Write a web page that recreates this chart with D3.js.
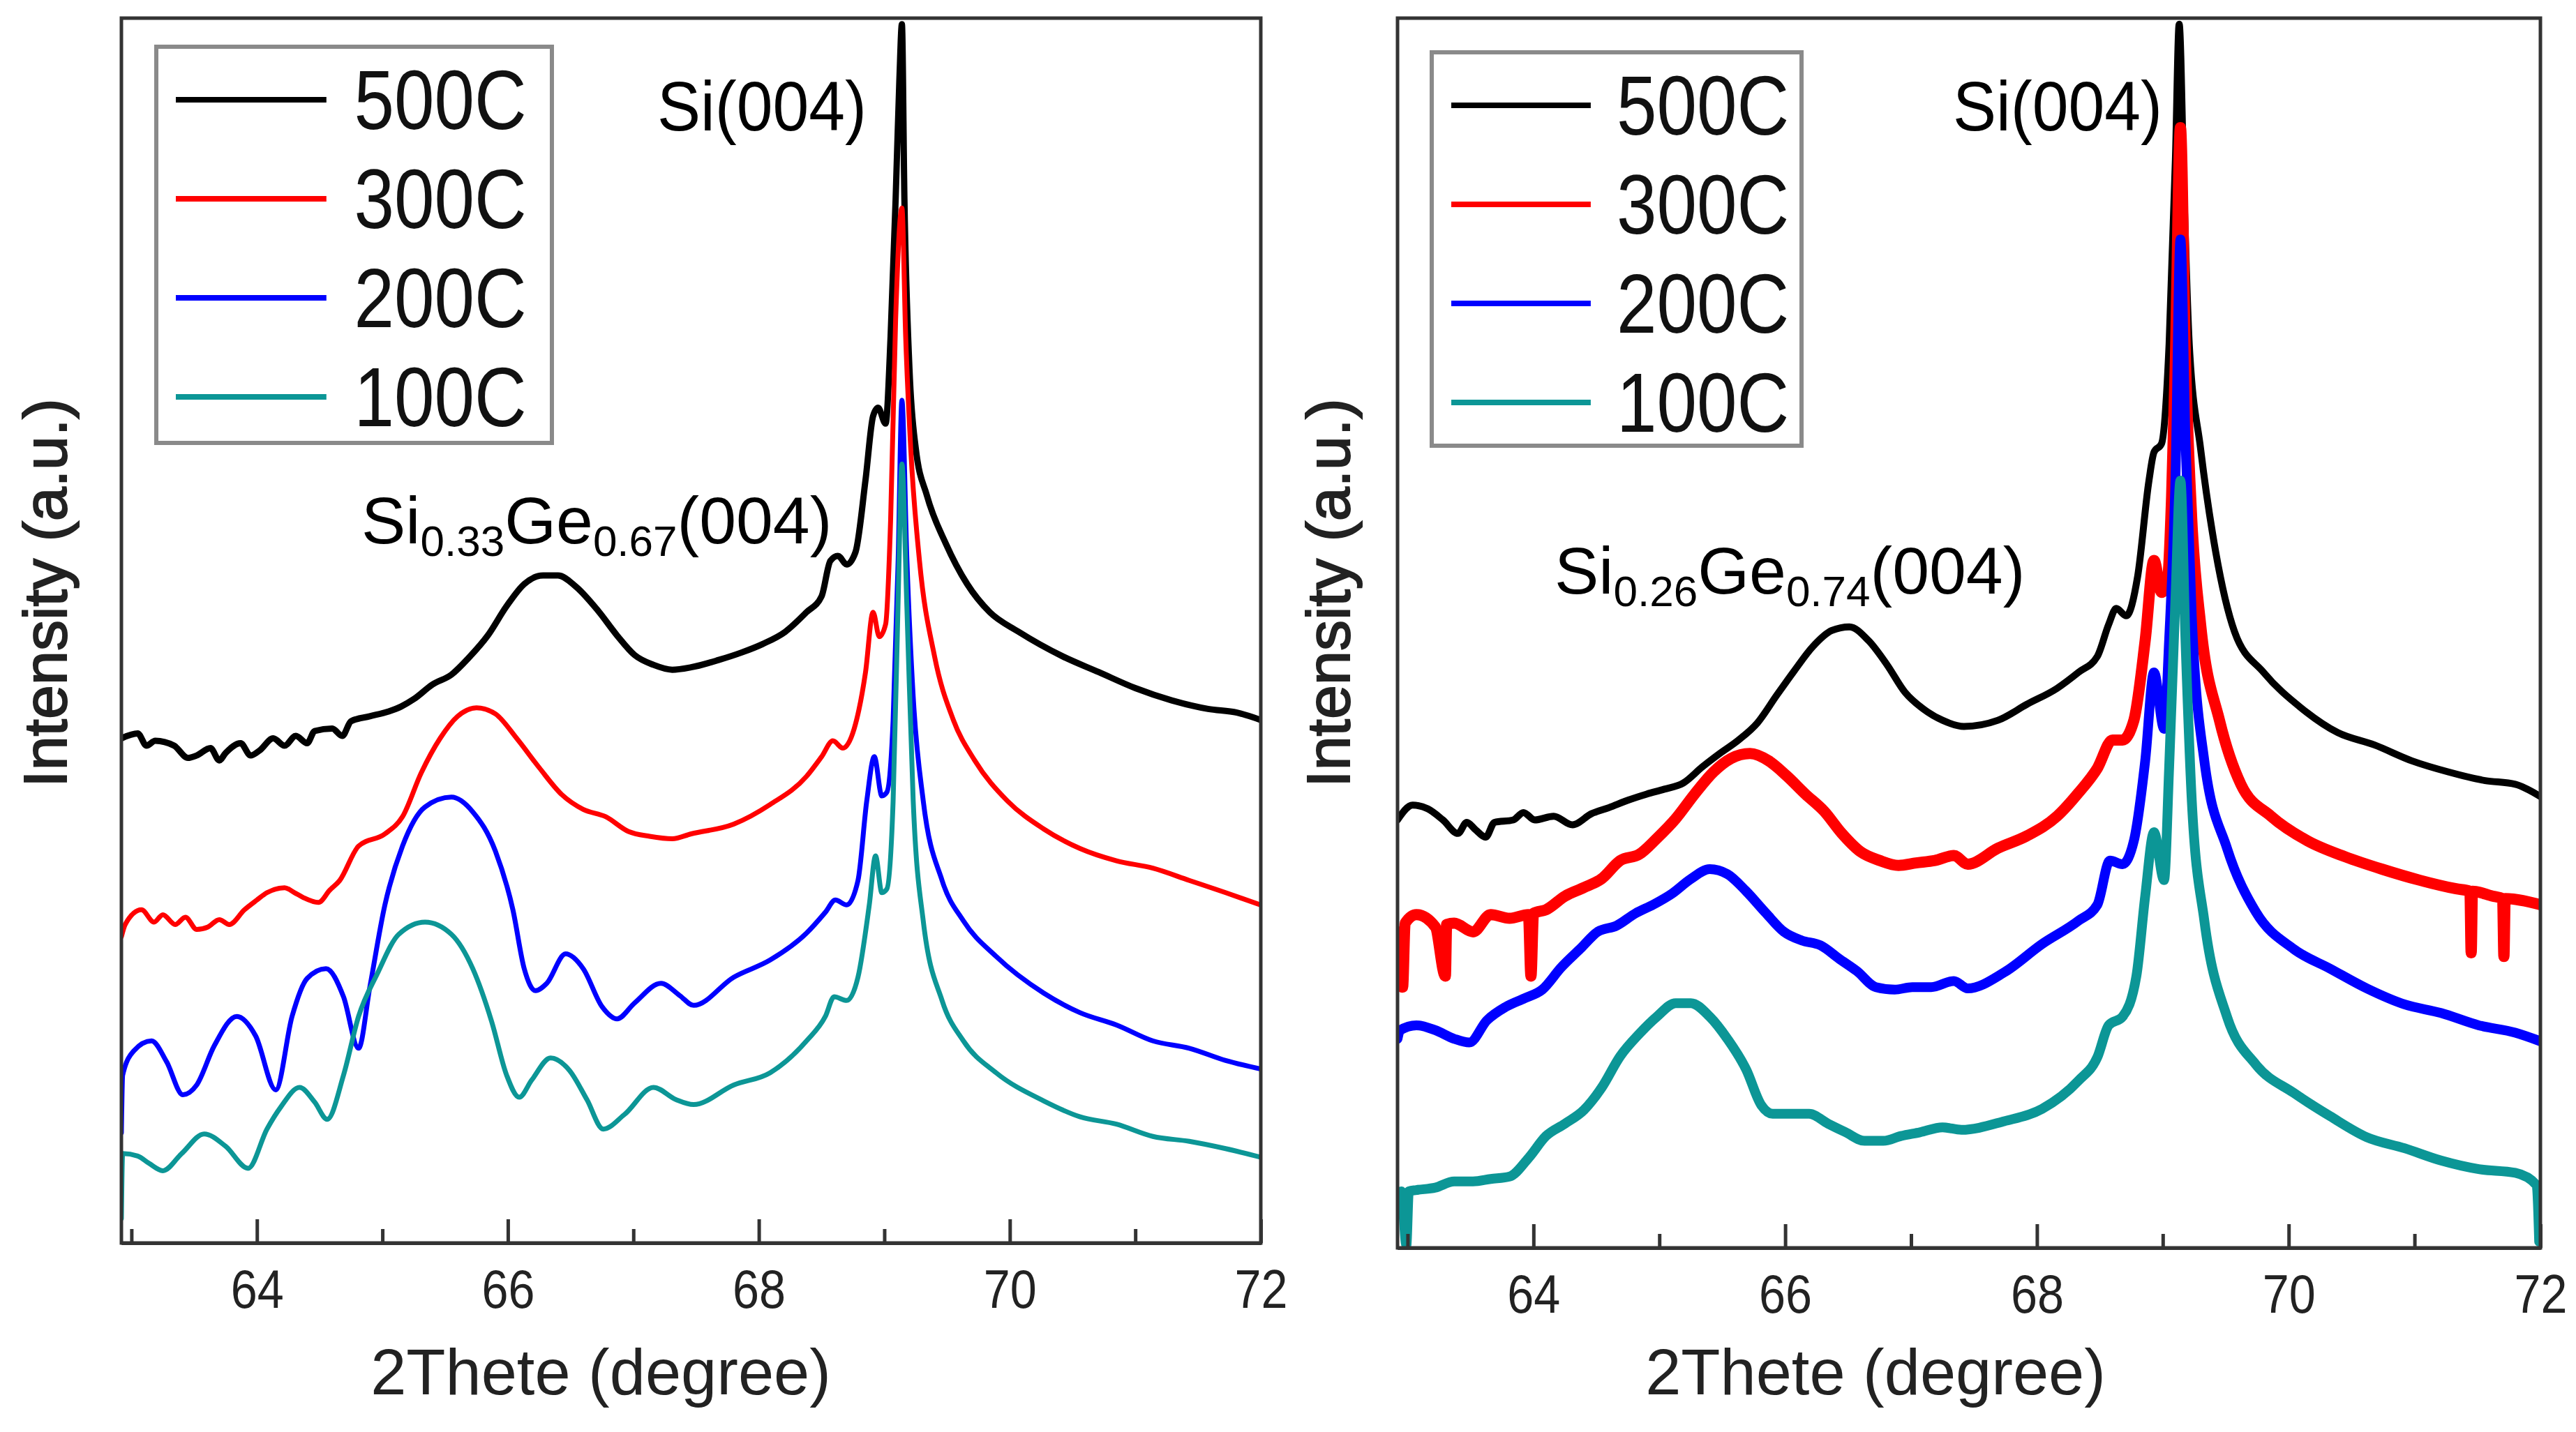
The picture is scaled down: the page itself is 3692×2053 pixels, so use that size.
<!DOCTYPE html>
<meta charset="utf-8">
<style>
body {
  margin: 0;
  background: #fff;
  font-family: "Liberation Sans", Arial, sans-serif;
}
.frame {
  fill: none;
  stroke: #333;
  stroke-width: 5;
}
.curve {
  fill: none;
  stroke-linejoin: round;
  stroke-linecap: round;
}
.axis path,
.axis line {
  fill: none;
  stroke: #333;
  stroke-width: 5;
}
.axis text {
  font-size: 78px;
  fill: #222;
  font-family: "Liberation Sans", Arial, sans-serif;
}
</style>
<body>
<script src="https://d3js.org/d3.v7.min.js"></script>
<script>

// tick values (degrees)
var xTicks = [64, 66, 68, 70, 72];
var xMinorTicks = [63, 65, 67, 69, 71];

var seriesNames = ["500C", "300C", "200C", "100C"];
var seriesColors = ["#000000", "#ff0000", "#0000ff", "#0c9696"];

// ---- left panel : Si0.33Ge0.67 ----  [2theta, intensity a.u.]
var left500 = [[62.92,41.2],[63.05,41.6],[63.12,40.6],[63.19,41.0],[63.34,40.6],[63.45,39.6],[63.52,39.8],[63.63,40.4],[63.70,39.4],[63.75,40.0],[63.87,40.8],[63.95,39.8],[64.02,40.2],[64.13,41.2],[64.22,40.6],[64.31,41.4],[64.40,40.8],[64.46,41.8],[64.60,42.0],[64.68,41.4],[64.75,42.6],[64.90,43.0],[65.05,43.4],[65.15,43.8],[65.25,44.4],[65.40,45.6],[65.55,46.4],[65.69,47.8],[65.84,49.6],[65.99,52.0],[66.13,53.8],[66.28,54.5],[66.40,54.5],[66.54,53.6],[66.72,51.6],[66.87,49.6],[67.01,48.0],[67.16,47.2],[67.31,46.8],[67.46,47.0],[67.68,47.6],[67.86,48.2],[68.03,48.9],[68.21,49.9],[68.38,51.5],[68.50,52.8],[68.57,55.7],[68.63,56.1],[68.70,55.4],[68.77,56.4],[68.85,62.3],[68.91,67.5],[68.95,68.2],[69.01,66.9],[69.05,74.0],[69.09,85.2],[69.12,95.0],[69.14,99.5],[69.16,85.2],[69.20,71.4],[69.25,64.9],[69.34,61.0],[69.49,57.1],[69.66,53.8],[69.84,51.5],[70.07,49.9],[70.42,47.9],[70.71,46.6],[71.00,45.3],[71.29,44.3],[71.58,43.6],[71.81,43.3],[72.00,42.7]];
var left300 = [[62.92,25.0],[62.95,26.0],[63.08,27.2],[63.18,26.2],[63.25,26.8],[63.35,26.0],[63.43,26.6],[63.52,25.6],[63.61,25.8],[63.70,26.4],[63.78,26.0],[63.90,27.2],[64.00,28.0],[64.08,28.6],[64.22,29.0],[64.30,28.6],[64.37,28.2],[64.49,27.8],[64.58,28.8],[64.66,29.6],[64.81,32.4],[65.02,33.4],[65.16,34.8],[65.31,38.4],[65.46,41.2],[65.60,43.0],[65.75,43.7],[65.90,43.2],[66.07,41.2],[66.25,38.8],[66.43,36.6],[66.60,35.4],[66.78,34.8],[66.96,33.6],[67.13,33.2],[67.31,33.0],[67.46,33.4],[67.80,34.2],[68.09,35.8],[68.38,38.1],[68.50,39.7],[68.59,41.0],[68.67,40.4],[68.76,42.0],[68.85,46.6],[68.91,51.5],[68.96,49.5],[69.01,50.5],[69.05,59.0],[69.09,75.4],[69.14,84.5],[69.17,74.0],[69.21,64.9],[69.28,55.7],[69.40,47.9],[69.55,42.7],[69.72,39.4],[69.98,36.1],[70.27,33.8],[70.56,32.2],[70.85,31.2],[71.14,30.6],[71.43,29.6],[71.72,28.6],[72.00,27.6]];
var left200 = [[62.92,9.0],[62.93,13.7],[63.02,15.7],[63.16,16.5],[63.28,14.8],[63.41,12.1],[63.52,12.9],[63.66,16.1],[63.84,18.5],[63.99,16.9],[64.15,12.5],[64.28,18.5],[64.40,21.6],[64.55,22.4],[64.69,20.1],[64.81,15.9],[64.90,20.9],[65.02,27.6],[65.16,32.4],[65.34,35.6],[65.55,36.4],[65.72,35.2],[65.90,32.0],[66.04,27.2],[66.13,22.4],[66.22,20.6],[66.31,21.2],[66.46,23.6],[66.60,22.4],[66.75,19.3],[66.87,18.3],[67.01,19.6],[67.22,21.2],[67.37,20.2],[67.48,19.4],[67.80,21.7],[68.09,23.1],[68.38,25.3],[68.53,27.0],[68.61,28.0],[68.70,27.6],[68.79,29.6],[68.86,36.1],[68.92,39.7],[68.98,36.5],[69.02,36.8],[69.07,42.7],[69.11,55.7],[69.14,68.8],[69.18,55.7],[69.23,44.6],[69.31,36.1],[69.46,29.6],[69.63,26.3],[69.89,23.4],[70.27,20.4],[70.56,18.8],[70.85,17.8],[71.14,16.5],[71.43,15.9],[71.72,14.9],[72.00,14.2]];
var left100 = [[62.92,2.0],[62.93,7.3],[63.05,7.1],[63.14,6.5],[63.25,5.9],[63.40,7.3],[63.58,8.9],[63.75,7.9],[63.93,6.1],[64.08,9.3],[64.19,11.1],[64.34,12.7],[64.46,11.5],[64.56,10.1],[64.69,13.7],[64.81,18.5],[64.96,22.0],[65.13,25.2],[65.34,26.2],[65.55,25.2],[65.72,22.4],[65.87,18.1],[65.99,13.7],[66.09,11.9],[66.19,13.3],[66.34,15.1],[66.49,14.1],[66.63,11.7],[66.76,9.3],[66.93,10.5],[67.16,12.7],[67.34,11.7],[67.48,11.3],[67.80,12.9],[68.09,13.9],[68.38,16.5],[68.53,18.5],[68.60,20.1],[68.70,19.8],[68.79,21.7],[68.88,27.6],[68.93,31.6],[68.98,28.6],[69.02,28.9],[69.07,36.1],[69.11,52.5],[69.14,63.6],[69.18,51.8],[69.23,36.1],[69.31,26.3],[69.46,19.8],[69.63,16.5],[69.89,13.9],[70.27,11.6],[70.56,10.3],[70.85,9.7],[71.14,8.7],[71.43,8.3],[71.72,7.7],[72.00,7.0]];

// ---- right panel : Si0.26Ge0.74 ----
var right500 = [[62.92,34.8],[63.04,36.0],[63.16,35.7],[63.28,34.8],[63.40,33.7],[63.47,34.6],[63.54,34.0],[63.62,33.4],[63.69,34.6],[63.84,34.8],[63.92,35.4],[64.01,34.8],[64.16,35.1],[64.31,34.4],[64.46,35.3],[64.60,35.8],[64.75,36.4],[64.90,36.9],[65.04,37.3],[65.19,37.8],[65.34,39.1],[65.48,40.2],[65.63,41.3],[65.78,42.7],[65.93,44.9],[66.07,46.9],[66.22,48.9],[66.37,50.2],[66.51,50.5],[66.66,49.4],[66.81,47.4],[66.95,45.2],[67.10,43.8],[67.25,42.9],[67.42,42.4],[67.69,42.9],[67.92,44.2],[68.16,45.5],[68.33,46.8],[68.48,48.1],[68.57,50.7],[68.63,52.0],[68.71,51.4],[68.80,54.6],[68.89,62.4],[68.93,64.7],[68.99,65.4],[69.05,73.5],[69.10,88.5],[69.13,99.5],[69.17,85.2],[69.21,73.5],[69.30,65.0],[69.42,56.6],[69.57,50.1],[69.80,46.8],[70.10,43.9],[70.39,41.9],[70.68,40.9],[70.98,39.6],[71.27,38.7],[71.56,38.0],[71.80,37.7],[72.00,36.7]];
var right300 = [[62.92,24.0],[62.94,25.7],[62.96,21.2],[62.98,26.4],[63.07,27.1],[63.22,26.1],[63.30,22.1],[63.31,26.3],[63.37,26.4],[63.52,25.7],[63.66,27.1],[63.81,26.8],[63.96,27.1],[63.98,22.1],[64.00,27.2],[64.10,27.5],[64.25,28.6],[64.40,29.3],[64.54,30.0],[64.69,31.5],[64.84,32.0],[64.98,33.3],[65.13,34.9],[65.28,36.9],[65.43,38.7],[65.57,39.8],[65.72,40.2],[65.87,39.6],[66.01,38.4],[66.16,36.9],[66.31,35.5],[66.45,33.7],[66.60,32.2],[66.75,31.5],[66.90,31.1],[67.04,31.3],[67.19,31.5],[67.34,31.9],[67.45,31.2],[67.69,32.5],[67.92,33.5],[68.16,35.1],[68.33,37.0],[68.48,39.0],[68.60,41.3],[68.68,41.3],[68.77,42.9],[68.86,49.4],[68.93,55.9],[68.99,53.3],[69.04,54.6],[69.07,61.1],[69.10,72.2],[69.14,91.1],[69.18,72.2],[69.23,59.2],[69.30,50.7],[69.45,42.9],[69.62,37.7],[69.86,35.1],[70.15,33.1],[70.45,31.8],[70.74,30.8],[71.04,29.9],[71.33,29.2],[71.44,29.0],[71.45,24.0],[71.46,29.0],[71.62,28.6],[71.70,28.4],[71.71,23.7],[71.72,28.4],[72.00,27.9]];
var right200 = [[62.92,17.0],[62.94,17.7],[63.07,18.1],[63.22,17.7],[63.37,17.0],[63.49,16.7],[63.63,18.5],[63.78,19.6],[63.93,20.3],[64.07,21.0],[64.22,22.8],[64.37,24.3],[64.51,25.7],[64.66,26.2],[64.81,27.2],[64.95,27.9],[65.10,28.8],[65.25,30.0],[65.40,30.8],[65.54,30.4],[65.69,29.0],[65.84,27.3],[65.99,25.7],[66.13,25.0],[66.28,24.6],[66.43,23.5],[66.57,22.5],[66.72,21.2],[66.87,21.0],[67.01,21.2],[67.16,21.2],[67.34,21.7],[67.45,21.1],[67.74,22.4],[68.04,24.7],[68.33,26.6],[68.48,27.9],[68.58,31.5],[68.68,31.2],[68.77,33.1],[68.86,39.6],[68.93,46.8],[69.01,42.2],[69.05,49.4],[69.10,62.4],[69.14,82.0],[69.18,65.7],[69.23,51.4],[69.33,39.6],[69.51,32.5],[69.74,27.3],[70.04,24.3],[70.33,22.7],[70.62,21.1],[70.92,19.8],[71.21,19.1],[71.51,18.1],[71.80,17.5],[72.00,16.8]];
var right100 = [[62.92,4.4],[62.95,4.6],[62.99,0.2],[63.01,4.6],[63.07,4.7],[63.22,4.9],[63.37,5.4],[63.52,5.4],[63.66,5.6],[63.81,5.8],[63.96,7.3],[64.10,9.1],[64.25,10.1],[64.40,11.2],[64.54,13.0],[64.69,15.6],[64.84,17.4],[64.98,18.8],[65.13,19.9],[65.25,19.9],[65.40,18.8],[65.54,17.0],[65.69,14.5],[65.81,11.6],[65.90,10.9],[66.04,10.9],[66.19,10.9],[66.34,10.1],[66.48,9.4],[66.63,8.7],[66.78,8.7],[66.92,9.1],[67.07,9.4],[67.25,9.8],[67.40,9.6],[67.74,10.3],[68.04,11.3],[68.33,13.6],[68.48,15.5],[68.57,18.1],[68.68,18.8],[68.79,22.1],[68.86,28.6],[68.93,33.8],[69.01,29.9],[69.05,39.0],[69.10,52.7],[69.14,62.4],[69.18,49.4],[69.23,36.4],[69.33,26.6],[69.51,18.8],[69.74,14.9],[70.04,12.6],[70.33,10.7],[70.62,9.0],[70.92,8.1],[71.21,7.1],[71.51,6.4],[71.80,6.1],[71.97,5.1],[71.99,0.5]];

// panel layout (pixels)
var panels = [
  { box: {left: 174, right: 1807, top: 26, bottom: 1782},
    series: [left500, left300, left200, left100],
    widths: [9, 7, 7, 7],
    legend: {x: 224, y: 67, w: 567, h: 568},
    yLabelX: 95, xLabelX: 861,
    si: {x: 942, y: 187},
    alloy: {x: 518, y: 779, a: "0.33", b: "0.67"} },
  { box: {left: 2003, right: 3641, top: 26, bottom: 1789},
    series: [right500, right300, right200, right100],
    widths: [10, 16, 14, 14],
    legend: {x: 2052, y: 75, w: 530, h: 564},
    yLabelX: 1934, xLabelX: 2688,
    si: {x: 2799, y: 187},
    alloy: {x: 2228, y: 851, a: "0.26", b: "0.74"} }
];

var svg = d3.select("body").append("svg")
    .attr("width", 3692)
    .attr("height", 2053);

panels.forEach(function(p, pi) {
  var b = p.box;

  var x = d3.scaleLinear().domain([62.92, 72]).range([b.left, b.right]);
  var y = d3.scaleLinear().domain([0, 100]).range([b.bottom, b.top]);

  svg.append("clipPath").attr("id", "clip" + pi)
    .append("rect")
      .attr("x", b.left).attr("y", b.top)
      .attr("width", b.right - b.left).attr("height", b.bottom - b.top);

  var line = d3.line()
      .curve(d3.curveMonotoneX)
      .x(function(d) { return x(d[0]); })
      .y(function(d) { return y(d[1]); });

  // curves, black first so the others sit on top at the Si peak
  var g = svg.append("g").attr("clip-path", "url(#clip" + pi + ")");
  p.series.forEach(function(s, i) {
    g.append("path")
      .datum(s)
      .attr("class", "curve")
      .style("stroke", seriesColors[i])
      .style("stroke-width", p.widths[i])
      .attr("d", line);
  });

  // box
  svg.append("rect")
      .attr("class", "frame")
      .attr("x", b.left).attr("y", b.top)
      .attr("width", b.right - b.left).attr("height", b.bottom - b.top);

  // x axis, ticks pointing inward
  svg.append("g")
      .attr("class", "axis")
      .attr("transform", "translate(0," + b.bottom + ")")
      .call(d3.axisBottom(x).tickValues(xTicks).tickSizeInner(-34).tickSizeOuter(0)
            .tickPadding(38).tickFormat(d3.format("d")))
    .selectAll("text")
      .attr("textLength", 76)
      .attr("lengthAdjust", "spacingAndGlyphs");

  svg.append("g")
      .attr("class", "axis")
      .attr("transform", "translate(0," + b.bottom + ")")
      .call(d3.axisBottom(x).tickValues(xMinorTicks).tickSizeInner(-20).tickSizeOuter(0)
            .tickFormat(""));

  // axis titles
  svg.append("text")
      .attr("x", p.xLabelX)
      .attr("y", 1999)
      .attr("text-anchor", "middle")
      .style("font-size", "92px")
      .style("fill", "#222")
      .text("2Thete (degree)");

  svg.append("text")
      .attr("transform", "translate(" + p.yLabelX + ",850) rotate(-90)")
      .attr("text-anchor", "middle")
      .style("font-size", "88px")
      .style("fill", "#222")
      .style("stroke", "#222")
      .style("stroke-width", 2)
      .text("Intensity (a.u.)");

  // peak labels
  svg.append("text")
      .attr("x", p.si.x).attr("y", p.si.y)
      .style("font-size", "100px")
      .attr("textLength", 300)
      .attr("lengthAdjust", "spacingAndGlyphs")
      .text("Si(004)");

  var al = svg.append("text")
      .attr("x", p.alloy.x).attr("y", p.alloy.y)
      .style("font-size", "95px");
  al.append("tspan").text("Si");
  al.append("tspan").attr("dy", 18).style("font-size", "62px").text(p.alloy.a);
  al.append("tspan").attr("dy", -18).text("Ge");
  al.append("tspan").attr("dy", 18).style("font-size", "62px").text(p.alloy.b);
  al.append("tspan").attr("dy", -18).text("(004)");

  // legend
  var L = p.legend;
  svg.append("rect")
      .attr("x", L.x).attr("y", L.y)
      .attr("width", L.w).attr("height", L.h)
      .style("fill", "#fff")
      .style("stroke", "#8a8a8a")
      .style("stroke-width", 6);

  var item = svg.selectAll(".legend" + pi)
      .data(seriesNames)
    .enter().append("g")
      .attr("class", "legend" + pi)
      .attr("transform", function(d, i) {
        return "translate(" + L.x + "," + (L.y + 76 + i * 142) + ")";
      });

  item.append("line")
      .attr("x1", 28).attr("x2", L.w * 0.43)
      .attr("y1", 0).attr("y2", 0)
      .style("stroke", function(d, i) { return seriesColors[i]; })
      .style("stroke-width", 8);

  item.append("text")
      .attr("x", L.w * 0.5)
      .attr("y", 42)
      .style("font-size", "120px")
      .style("fill", "#111")
      .attr("textLength", 247)
      .attr("lengthAdjust", "spacingAndGlyphs")
      .text(function(d) { return d; });
});

</script>
</body>
